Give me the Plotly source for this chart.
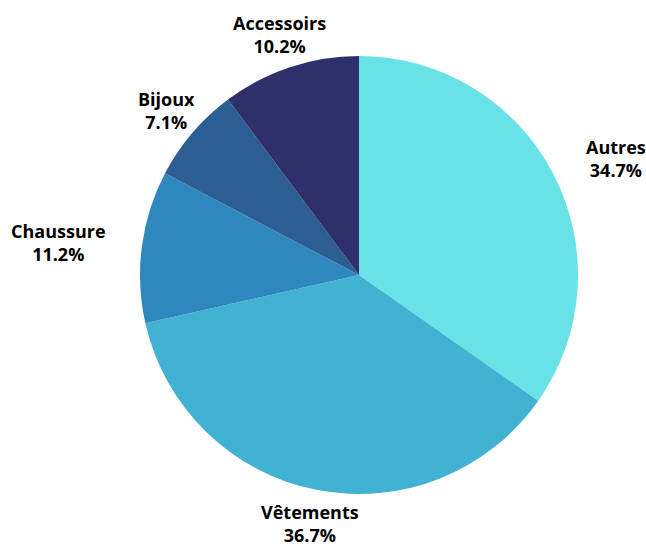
import math
import plotly.graph_objects as go

# Category shares (percent)
categories = ["Autres", "Vêtements", "Chaussure", "Bijoux", "Accessoirs"]
shares = [34.7, 36.7, 11.2, 7.1, 10.2]
slice_colors = ["#68E1E7", "#42B2D3", "#2E88BE", "#2D5E93", "#2D306B"]

W, H = 646, 547
CX, CY, R = 359, 275, 219          # pie centre and radius, px
LABEL_R = R * 1.157                # label anchor distance from centre, px

fig = go.Figure(
    go.Pie(
        labels=categories,
        values=shares,
        sort=False,
        direction="clockwise",
        rotation=0,
        marker=dict(colors=slice_colors, line=dict(width=0)),
        textinfo="none",
        hoverinfo="label+value",
        showlegend=False,
        domain=dict(
            x=[(CX - R) / W, (CX + R) / W],
            y=[1 - (CY + R) / H, 1 - (CY - R) / H],
        ),
    )
)

# Outside labels: placed radially at each slice's mid-angle
total = sum(shares)
cum = 0.0
annotations = []
for name, val in zip(categories, shares):
    mid = (cum + val / 2) / total * 2 * math.pi   # clockwise from 12 o'clock
    cum += val
    ux, uy = math.sin(mid), -math.cos(mid)
    px = CX + LABEL_R * ux
    py = CY + LABEL_R * uy
    if ux > 0.85:
        xanchor = "left"
    elif ux < -0.85:
        xanchor = "right"
    else:
        xanchor = "center"
    annotations.append(
        dict(
            x=px / W,
            y=1 - py / H,
            xref="paper",
            yref="paper",
            xanchor=xanchor,
            yanchor="middle",
            showarrow=False,
            align="center",
            text=f"<b>{name}<br>{val:.1f}%</b>",
            font=dict(family="Open Sans", size=18, color="#000000"),
        )
    )

fig.update_layout(
    width=W,
    height=H,
    margin=dict(l=0, r=0, t=0, b=0),
    paper_bgcolor="white",
    plot_bgcolor="white",
    annotations=annotations,
)

fig.write_html("out.html")
